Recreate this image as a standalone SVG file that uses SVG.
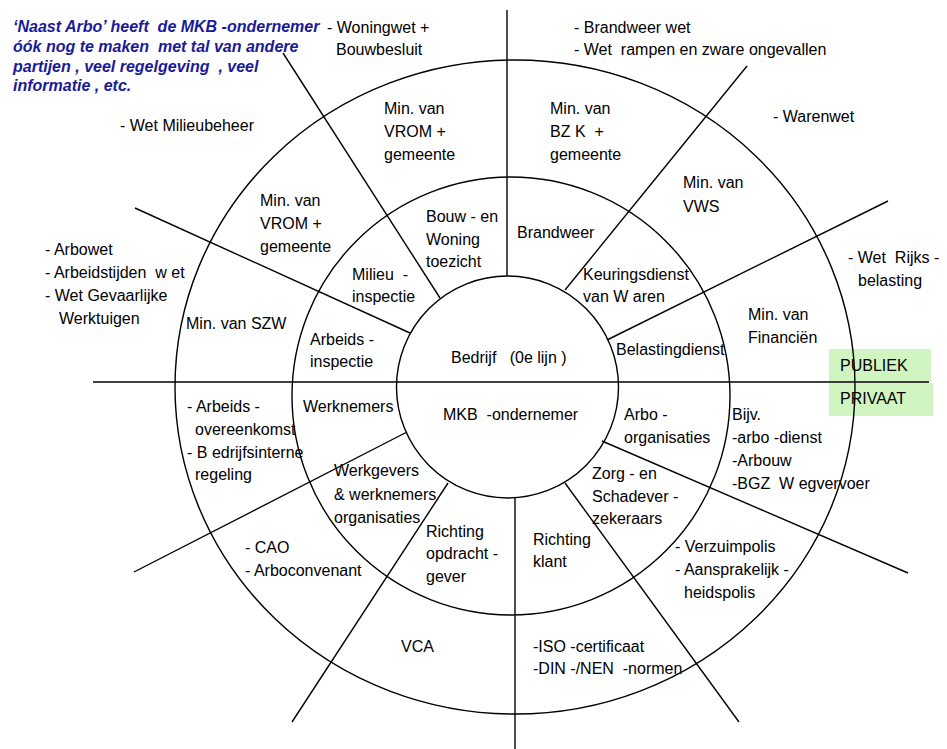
<svg xmlns="http://www.w3.org/2000/svg" width="947" height="749" viewBox="0 0 947 749">
<style>
text{font-family:"Liberation Sans",Arial,sans-serif;font-size:16px;fill:#000;white-space:pre}
.blue{font-weight:bold;font-style:italic;fill:#1a1a99}
.ring{fill:none;stroke:#000;stroke-width:1.4}
.ln{stroke:#000;stroke-width:1.4;fill:none}
.box{fill:#d0f5c0}
</style>
<rect width="947" height="749" fill="#fff"/>
<g id="labels-boxes">
<rect class="box" x="829" y="349" width="102" height="33"/>
<rect class="box" x="829" y="383" width="104" height="33"/>
</g>
<g id="rings">
<ellipse class="ring" cx="515" cy="387" rx="340" ry="327"/>
<circle class="ring" cx="511" cy="396" r="219"/>
<circle class="ring" cx="507.5" cy="387" r="111"/>
</g>
<g id="connectors">
<line class="ln" x1="507" y1="10" x2="507" y2="276"/>
<line class="ln" x1="515" y1="498" x2="515" y2="749"/>
<line class="ln" x1="93" y1="382" x2="929" y2="382"/>
<line class="ln" x1="283" y1="53" x2="440" y2="298"/>
<line class="ln" x1="135" y1="208" x2="410" y2="333"/>
<line class="ln" x1="747" y1="66" x2="565" y2="290"/>
<line class="ln" x1="888" y1="201" x2="607" y2="340"/>
<line class="ln" x1="602" y1="441" x2="908" y2="573"/>
<line class="ln" x1="565" y1="483" x2="739" y2="722"/>
<line class="ln" x1="448" y1="483" x2="292" y2="722"/>
<line class="ln" x1="407" y1="432" x2="134" y2="572"/>
</g>
<g id="intro">
<text class="blue" x="13" y="32">‘Naast Arbo’ heeft  de MKB -ondernemer</text>
<text class="blue" x="13" y="52">óók nog te maken  met tal van andere</text>
<text class="blue" x="13" y="72">partijen , veel regelgeving  , veel</text>
<text class="blue" x="13" y="91">informatie , etc.</text>
</g>
<g id="woningwet"><text x="327" y="33">- Woningwet +</text><text x="336" y="55">Bouwbesluit</text></g>
<g id="brandweerwet"><text x="574" y="33">- Brandweer wet</text><text x="574" y="55">- Wet  rampen en zware ongevallen</text></g>
<g id="warenwet"><text x="773" y="122">- Warenwet</text></g>
<g id="milieubeheer"><text x="120" y="131">- Wet Milieubeheer</text></g>
<g id="vrom-top"><text x="384" y="114">Min. van</text><text x="384" y="137">VROM +</text><text x="384" y="160">gemeente</text></g>
<g id="bzk"><text x="550" y="114">Min. van</text><text x="550" y="137">BZ K  +</text><text x="550" y="160">gemeente</text></g>
<g id="vws"><text x="683" y="188">Min. van</text><text x="683" y="212">VWS</text></g>
<g id="vrom-left"><text x="260" y="206">Min. van</text><text x="260" y="229">VROM +</text><text x="260" y="252">gemeente</text></g>
<g id="arbowet"><text x="45" y="255">- Arbowet</text><text x="45" y="278">- Arbeidstijden  w et</text><text x="45" y="301">- Wet Gevaarlijke</text><text x="59" y="324">Werktuigen</text></g>
<g id="szw"><text x="186" y="329">Min. van SZW</text></g>
<g id="bwt"><text x="426" y="222">Bouw - en</text><text x="426" y="245">Woning</text><text x="426" y="267">toezicht</text></g>
<g id="brandweer"><text x="517" y="238">Brandweer</text></g>
<g id="milieu"><text x="352" y="280">Milieu  -</text><text x="352" y="302">inspectie</text></g>
<g id="keuring"><text x="583" y="280">Keuringsdienst</text><text x="583" y="302">van W aren</text></g>
<g id="arbeidsinsp"><text x="310" y="345">Arbeids -</text><text x="310" y="367">inspectie</text></g>
<g id="bedrijf"><text x="451" y="363">Bedrijf   (0e lijn )</text></g>
<g id="belastingdienst"><text x="616" y="355">Belastingdienst</text></g>
<g id="financien"><text x="748" y="320">Min. van</text><text x="748" y="343">Financiën</text></g>
<g id="rijksbelasting"><text x="848" y="263">- Wet  Rijks -</text><text x="858" y="286">belasting</text></g>
<g id="publiek"><text x="840" y="371">PUBLIEK</text></g>
<g id="privaat"><text x="840" y="404">PRIVAAT</text></g>
<g id="overeenkomst"><text x="187" y="412">- Arbeids -</text><text x="195" y="435">overeenkomst</text><text x="187" y="458">- B edrijfsinterne</text><text x="195" y="480">regeling</text></g>
<g id="werknemers"><text x="303" y="412">Werknemers</text></g>
<g id="mkb"><text x="443" y="420">MKB  -ondernemer</text></g>
<g id="arbo-org"><text x="624" y="420">Arbo -</text><text x="624" y="443">organisaties</text></g>
<g id="bijv"><text x="732" y="420">Bijv.</text><text x="732" y="443">-arbo -dienst</text><text x="732" y="466">-Arbouw</text><text x="732" y="489">-BGZ  W egvervoer</text></g>
<g id="werkgevers"><text x="334" y="476">Werkgevers</text><text x="334" y="500">&amp; werknemers</text><text x="334" y="523">organisaties</text></g>
<g id="zorg"><text x="592" y="479">Zorg - en</text><text x="592" y="502">Schadever -</text><text x="592" y="524">zekeraars</text></g>
<g id="opdrachtgever"><text x="426" y="537">Richting</text><text x="426" y="559">opdracht -</text><text x="426" y="582">gever</text></g>
<g id="klant"><text x="533" y="545">Richting</text><text x="533" y="567">klant</text></g>
<g id="polis"><text x="675" y="552">- Verzuimpolis</text><text x="675" y="575">- Aansprakelijk -</text><text x="684" y="598">heidspolis</text></g>
<g id="cao"><text x="245" y="553">- CAO</text><text x="245" y="576">- Arboconvenant</text></g>
<g id="vca"><text x="401" y="652">VCA</text></g>
<g id="iso"><text x="533" y="652">-ISO -certificaat</text><text x="533" y="674">-DIN -/NEN  -normen</text></g>
</svg>
